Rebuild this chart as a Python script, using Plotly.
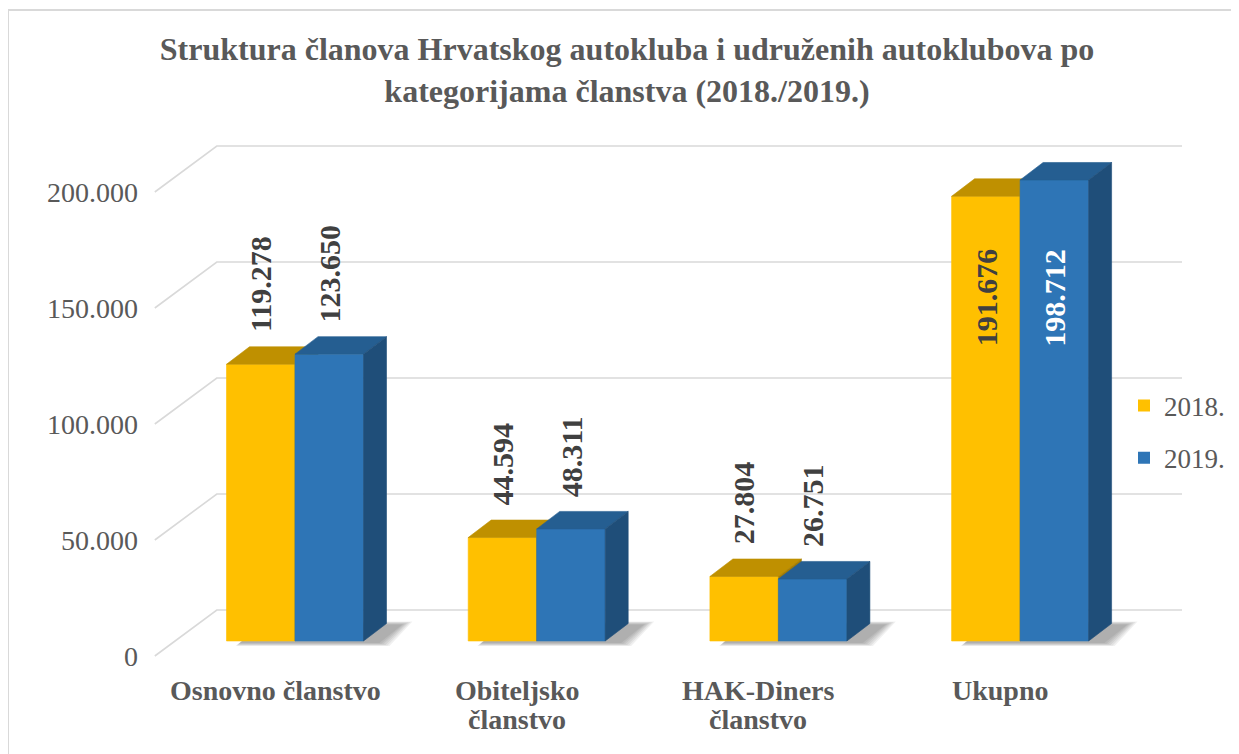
import plotly.graph_objects as go

# ---------------- data ----------------
CATEGORIES = ["Osnovno članstvo", "Obiteljsko<br>članstvo", "HAK-Diners<br>članstvo", "Ukupno"]
SERIES = ["2018.", "2019."]
VALUES_2018 = [119278, 44594, 27804, 191676]
VALUES_2019 = [123650, 48311, 26751, 198712]
Y_TICKS = [0, 50000, 100000, 150000, 200000]
LABEL_INSIDE = [False, False, False, True]
TITLE = ("Struktura članova Hrvatskog autokluba i udruženih autoklubova po<br>"
         "kategorijama članstva (2018./2019.)")

# ---------------- style ----------------
FONT = "'Liberation Serif', 'Times New Roman', serif"
TEXT_GREY = "#595959"
LABEL_GREY = "#404040"
GRID = "#d9d9d9"
COLORS = [
    {"front": "#FFC000", "top": "#BF9000", "side": "#A67D00", "label": LABEL_GREY},
    {"front": "#2E75B6", "top": "#255E91", "side": "#1F4E79", "label": "#FFFFFF"},
]

W, H = 1239, 754
OFF = 8                  # page body margin
PX_PER_CAT = 241.7       # pixels per category step
PX_PER_VAL = 0.00232     # pixels per value unit
X0_PX, Y0_PX = 295 - OFF, 641 - OFF  # figure pixel of category 0 centre / value 0 (bar front)


def dx(px):
    return px / PX_PER_CAT


def dv(px):
    return px / PX_PER_VAL


BAR_W = dx(68.5)
DEPTH_X, DEPTH_Y = dx(23), dv(17.5)
FRONT_X, FRONT_Y = dx(-20), dv(-15)   # front (label) plane relative to bar front
BACK_X, BACK_Y = dx(42), dv(31)       # back wall relative to bar front
GRID_LEFT = -0.58
GRID_RIGHT = 3.67


def fmt(v):
    return f"{v:,}".replace(",", ".")


fig = go.Figure()

# ---- 3D gridlines (floor diagonal + back wall) ----
gx, gy = [], []
for t in Y_TICKS:
    gx += [GRID_LEFT, GRID_LEFT + (BACK_X - FRONT_X), GRID_RIGHT, None]
    gy += [t + FRONT_Y, t + BACK_Y, t + BACK_Y, None]
fig.add_trace(go.Scatter(x=gx, y=gy, mode="lines", line=dict(color=GRID, width=1.6),
                         hoverinfo="skip", showlegend=False))

series_vals = [VALUES_2018, VALUES_2019]

# ---- soft shadows on the floor ----
for i in range(len(CATEGORIES)):
    xl = i - BAR_W
    xr = i + BAR_W
    for k in range(6):
        e = 2 + 2.0 * k
        sx, sy = dx(14), dv(-1.5)
        px = [xl + sx - dx(e * 0.4), xr + sx + dx(e), xr + DEPTH_X + sx + dx(e), xl + DEPTH_X + sx, xl + sx - dx(e * 0.4)]
        py = [sy - dv(e * 0.3), sy - dv(e * 0.3), DEPTH_Y + sy + dv(e * 0.3), DEPTH_Y + sy + dv(e * 0.3), sy - dv(e * 0.3)]
        fig.add_trace(go.Scatter(x=px, y=py, mode="lines", fill="toself",
                                 fillcolor="rgba(0,0,0,0.06)", line=dict(width=0),
                                 hoverinfo="skip", showlegend=False))

# ---- bars (front, top, side faces) ----
def poly(xs, ys, color, name, text):
    fig.add_trace(go.Scatter(x=xs + [xs[0]], y=ys + [ys[0]], mode="lines", fill="toself",
                             fillcolor=color, line=dict(color=color, width=0.6),
                             name=name, hoverinfo="text", text=text, showlegend=False))


for i in range(len(CATEGORIES)):
    for s in range(len(SERIES)):
        v = series_vals[s][i]
        c = COLORS[s]
        xl = i - BAR_W if s == 0 else i
        xr = xl + BAR_W
        txt = f"{SERIES[s]} {fmt(v)}"
        poly([xl, xr, xr, xl], [0, 0, v, v], c["front"], SERIES[s], txt)
        poly([xl, xr, xr + DEPTH_X, xl + DEPTH_X], [v, v, v + DEPTH_Y, v + DEPTH_Y], c["top"], SERIES[s], txt)
        poly([xr, xr + DEPTH_X, xr + DEPTH_X, xr], [0, DEPTH_Y, v + DEPTH_Y, v], c["side"], SERIES[s], txt)

# ---- legend entries ----
for s in range(len(SERIES)):
    fig.add_trace(go.Scatter(x=[None], y=[None], mode="markers", name=SERIES[s],
                             marker=dict(symbol="square", size=12, color=COLORS[s]["front"]),
                             legendgroup=SERIES[s], showlegend=True))

annotations = []
# ---- data labels ----
for i in range(len(CATEGORIES)):
    group_min = min(series_vals[s][i] for s in range(len(SERIES)))
    for s in range(len(SERIES)):
        v = series_vals[s][i]
        xl = i - BAR_W if s == 0 else i
        xc = xl + BAR_W / 2
        if LABEL_INSIDE[i]:
            annotations.append(dict(x=xc, y=group_min, xref="x", yref="y", text=f"<b>{fmt(v)}</b>",
                                    textangle=-90, showarrow=False, xanchor="center", yanchor="top",
                                    yshift=-50, font=dict(family=FONT, size=30, color=COLORS[s]["label"])))
        else:
            annotations.append(dict(x=xc, y=v, xref="x", yref="y", text=f"<b>{fmt(v)}</b>",
                                    textangle=-90, showarrow=False, xanchor="center", yanchor="bottom",
                                    yshift=30, font=dict(family=FONT, size=30, color=LABEL_GREY)))

# ---- value axis tick labels (front plane) ----
for t in Y_TICKS:
    annotations.append(dict(x=GRID_LEFT, y=t + FRONT_Y, xref="x", yref="y", text=fmt(t),
                            showarrow=False, xanchor="right", yanchor="middle", xshift=-15,
                            font=dict(family=FONT, size=28, color=TEXT_GREY)))

# ---- category labels (one annotation per line) ----
for i, cat in enumerate(CATEGORIES):
    for j, line in enumerate(cat.split("<br>")):
        annotations.append(dict(x=i + FRONT_X, y=FRONT_Y, xref="x", yref="y", text=f"<b>{line}</b>",
                                showarrow=False, xanchor="center", yanchor="middle", yshift=-34 - 29 * j,
                                font=dict(family=FONT, size=28, color=TEXT_GREY)))

fig.update_layout(
    width=W, height=H,
    margin=dict(l=0, r=0, t=0, b=0),
    paper_bgcolor="white", plot_bgcolor="white",
    title=dict(text=f"<b>{TITLE}</b>", x=(627 - OFF) / W, xanchor="center", y=1 - 52 / H, yanchor="top",
               font=dict(family=FONT, size=32, color=TEXT_GREY)),
    xaxis=dict(range=[-X0_PX / PX_PER_CAT, (W - X0_PX) / PX_PER_CAT], visible=False, fixedrange=True),
    yaxis=dict(range=[-(H - Y0_PX) / PX_PER_VAL, Y0_PX / PX_PER_VAL], visible=False, fixedrange=True),
    showlegend=True,
    legend=dict(x=(1124 - OFF) / W, y=1 - (432 - OFF) / H, xanchor="left", yanchor="middle",
                font=dict(family=FONT, size=27, color=TEXT_GREY), tracegroupgap=14,
                itemwidth=30, bgcolor="rgba(0,0,0,0)"),
    annotations=annotations,
    shapes=[dict(type="rect", xref="paper", yref="paper", x0=0, x1=1.02, y0=-0.02, y1=1 - 2 / H,
                 line=dict(color="#d9d9d9", width=2), fillcolor="rgba(0,0,0,0)", layer="below")],
)

fig.write_html("out.html")
